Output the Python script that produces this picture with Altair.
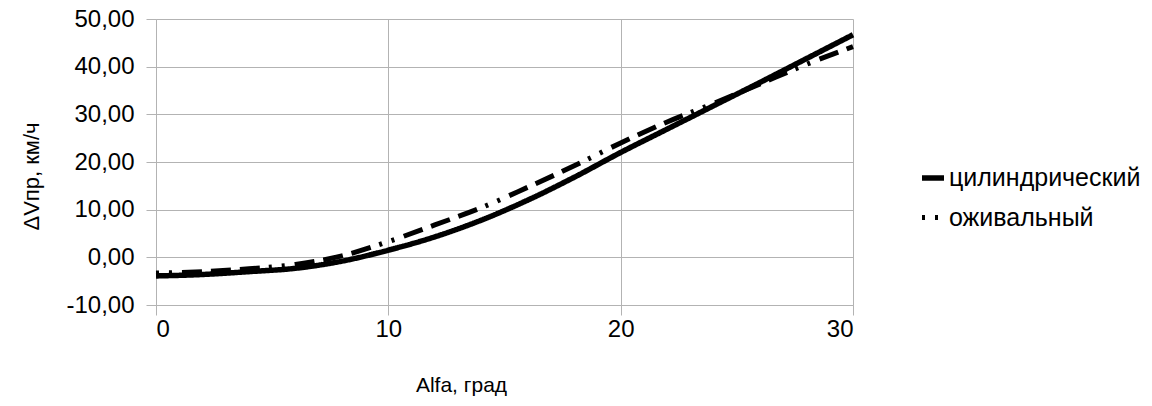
import altair as alt
import pandas as pd

alfa = [0, 2, 4, 6, 8, 10, 12, 14, 16, 18, 20, 22, 24, 26, 28, 30]
cylindrical = [-3.9, -3.6, -3.0, -2.3, -0.8, 1.5, 4.3, 7.8, 12.0, 16.8, 22.0, 26.9, 31.8, 36.7, 41.7, 46.7]
ogival = [-3.3, -3.0, -2.4, -1.5, 0.3, 3.3, 6.8, 10.4, 14.7, 19.2, 24.0, 28.4, 32.3, 36.4, 40.5, 44.2]
series_names = ["цилиндрический", "оживальный"]
x_ticks = [0, 10, 20, 30]
y_ticks = [-10, 0, 10, 20, 30, 40, 50]

rows = []
for name, vals in zip(series_names, [cylindrical, ogival]):
    for a, v in zip(alfa, vals):
        rows.append({"alfa": a, "dv": v, "series": name})
df = pd.DataFrame(rows)

label_expr = "replace(replace(format(datum.value, '.2f'), '.', ','), '\u2212', '-')"

FONT = "Liberation Sans"

chart = alt.Chart(df).mark_line(
    color="black", interpolate="monotone", strokeCap="butt"
).encode(
    x=alt.X(
        "alfa:Q",
        scale=alt.Scale(domain=[0, 30], nice=False),
        axis=alt.Axis(
            values=x_ticks,
            title="Alfa, град",
            titleX=305,
            titleY=86,
            titleAlign="center",
            titleBaseline="alphabetic",
            titleFontSize=21,
            labelPadding=2,
        ),
    ),
    y=alt.Y(
        "dv:Q",
        scale=alt.Scale(domain=[-10, 50], nice=False),
        axis=alt.Axis(
            values=y_ticks,
            labelExpr=label_expr,
            title="ΔVпр, км/ч",
            titleX=-118,
            titleY=157,
            titleAlign="center",
            titleBaseline="alphabetic",
            titleFontSize=22,
            labelPadding=12,
        ),
    ),
    strokeDash=alt.StrokeDash(
        "series:N",
        scale=alt.Scale(domain=series_names, range=[[1, 0], [3, 10, 3, 10, 20, 9, 20, 9, 20, 9]]),
        legend=alt.Legend(
            title=None,
            orient="none",
            legendX=763,
            legendY=145,
            symbolType="stroke",
            symbolSize=484,
            symbolStrokeWidth=2,
            symbolStrokeColor="black",
            labelFontSize=25,
            labelFont=FONT,
            labelColor="black",
            labelLimit=400,
            rowPadding=13,
            labelOffset=2,
            padding=0,
        ),
    ),
    strokeWidth=alt.StrokeWidth(
        "series:N",
        scale=alt.Scale(domain=series_names, range=[5.5, 5]),
        legend=None,
    ),
).properties(
    width=697,
    height=286,
    autosize=alt.AutoSizeParams(type="none"),
    padding={"left": 148, "top": 11, "right": 290, "bottom": 94},
).configure_axis(
    gridColor="#b3b3b3",
    domainColor="#b3b3b3",
    tickColor="#b3b3b3",
    tickSize=10,
    labelFontSize=24,
    labelFont=FONT,
    labelColor="black",
    titleFont=FONT,
    titleFontWeight="normal",
    titleColor="black",
).configure_view(stroke=None)

chart.save("out.html", embed_options={"renderer": "svg", "actions": False})
